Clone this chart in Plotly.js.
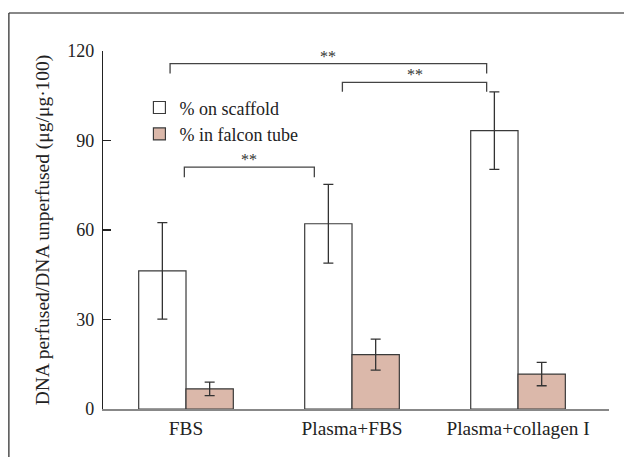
<!DOCTYPE html>
<html>
<head>
<meta charset="utf-8">
<script src="https://cdn.plot.ly/plotly-3.0.1.min.js"></script>
<style>html,body{margin:0;padding:0;background:#fff}#chart{width:624px;height:457px}</style>
</head>
<body>
<div id="chart"></div>
<script>
// ---- data ----
const categories = ["FBS", "Plasma+FBS", "Plasma+collagen I"];
const scaffoldValues = [46.3, 62.1, 93.3];
const scaffoldErrors = [16.2, 13.2, 13.0];
const tubeValues = [6.75, 18.2, 11.7];
const tubeErrors = [2.25, 5.2, 3.9];
const yTickValues = [0, 30, 60, 90, 120];
// significance brackets (category-axis positions and y values)
const bracketStart = [-0.096, 0.942, -0.01];
const bracketEnd = [1.811, 1.811, 0.773];
const bracketTop = [115.8, 109.5, 81.1];
const bracketFoot = [112.5, 106.3, 77.7];
const bracketLabels = ["**", "**", "**"];

const FONT = "Liberation Serif";
const ink = "#333333";

const traces = [
  {
    type: "bar", name: "% on scaffold", x: categories, y: scaffoldValues,
    marker: {color: "#ffffff", line: {color: "#3a3a3a", width: 1.2}},
    error_y: {type: "data", array: scaffoldErrors, visible: true, color: ink, thickness: 1.3, width: 5}
  },
  {
    type: "bar", name: "% in falcon tube", x: categories, y: tubeValues,
    marker: {color: "#dbb8aa", line: {color: "#3a3a3a", width: 1.2}},
    error_y: {type: "data", array: tubeErrors, visible: true, color: ink, thickness: 1.3, width: 5}
  }
];

const shapes = bracketStart.map((s, i) => ({
  type: "path", xref: "x", yref: "y",
  path: `M ${s},${bracketFoot[i]} L ${s},${bracketTop[i]} L ${bracketEnd[i]},${bracketTop[i]} L ${bracketEnd[i]},${bracketFoot[i]}`,
  line: {color: "#444", width: 1.3}
}));
// frame lines of the figure (top and left edges)
shapes.push({type: "line", xref: "paper", yref: "paper", x0: -0.186, x1: 1.05, y0: 1.106, y1: 1.106, line: {color: "#888", width: 2}});
shapes.push({type: "line", xref: "paper", yref: "paper", x0: -0.186, x1: -0.186, y0: 1.106, y1: -0.2, line: {color: "#333", width: 1.3}});

const annotations = bracketStart.map((s, i) => ({
  x: (s + bracketEnd[i]) / 2, y: bracketTop[i], xref: "x", yref: "y",
  text: bracketLabels[i], showarrow: false, yanchor: "bottom", yshift: -3,
  font: {family: FONT, size: 16, color: "#333"}
}));

const layout = {
  width: 624, height: 457,
  margin: {l: 103, r: 15, t: 51, b: 47.5},
  paper_bgcolor: "#fff", plot_bgcolor: "#fff",
  font: {family: FONT, size: 18, color: "#222"},
  barmode: "group", bargap: 0.43, bargroupgap: 0,
  showlegend: true,
  legend: {x: 0.072, y: 0.893, xanchor: "left", yanchor: "top", bgcolor: "rgba(0,0,0,0)",
    font: {family: FONT, size: 18, color: "#222"}, tracegroupgap: 0},
  xaxis: {
    type: "category", range: [-0.5, 2.548], showgrid: false, zeroline: false,
    showline: true, linecolor: "#888", linewidth: 1.5, ticks: "",
    tickfont: {family: FONT, size: 19.3, color: "#222"}, ticklabelstandoff: 1
  },
  yaxis: {
    range: [0, 120], tickvals: yTickValues, showgrid: false, zeroline: false,
    showline: true, linecolor: "#222", linewidth: 1.2,
    ticks: "inside", ticklen: 8, tickcolor: "#222", tickwidth: 1.2,
    tickfont: {family: FONT, size: 18, color: "#222"}, ticklabelstandoff: 4,
    title: {text: "DNA perfused/DNA unperfused (μg/μg·100)", font: {family: FONT, size: 19.5, color: "#222"}, standoff: 12}
  },
  shapes: shapes,
  annotations: annotations
};

Plotly.newPlot("chart", traces, layout, {displayModeBar: false, staticPlot: true});
</script>
</body>
</html>
